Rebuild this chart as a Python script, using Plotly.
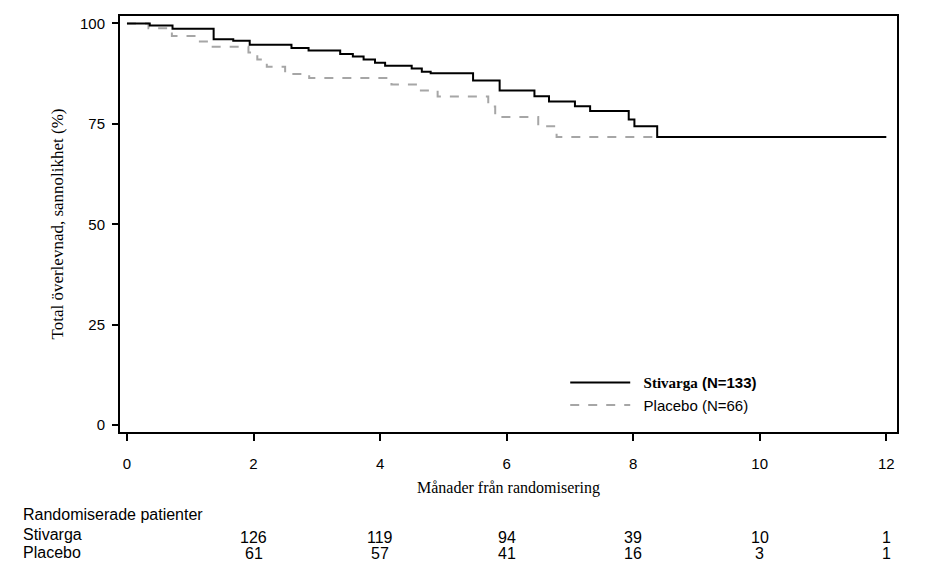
import plotly.graph_objects as go

# Kaplan-Meier step data (months, survival %)
stivarga_t = [0, 0.36, 0.72, 1.37, 1.68, 1.94, 2.60, 2.87, 3.37, 3.57, 3.74, 3.92, 4.08,
              4.50, 4.66, 4.80, 5.47, 5.89, 6.44, 6.67, 7.08, 7.32, 7.93, 8.02, 8.38, 12]
stivarga_s = [100, 99.5, 98.7, 96.1, 95.7, 94.7, 93.9, 93.3, 92.4, 91.8, 91.0, 90.2, 89.5,
              88.8, 88.0, 87.6, 85.8, 83.3, 81.9, 80.6, 79.4, 78.2, 76.1, 74.4, 71.7, 71.7]

placebo_t = [0, 0.34, 0.71, 1.10, 1.31, 1.92, 2.06, 2.21, 2.50, 2.88, 4.18, 4.61, 4.91,
             5.71, 5.82, 6.50, 6.79, 12]
placebo_s = [100, 98.8, 96.9, 95.5, 94.2, 92.8, 91.0, 89.2, 87.4, 86.4, 84.8, 83.3, 81.8,
             79.3, 76.7, 74.4, 71.7, 71.7]

# Numbers at risk
risk_months = [2, 4, 6, 8, 10, 12]
risk_stivarga = [126, 119, 94, 39, 10, 1]
risk_placebo = [61, 57, 41, 16, 3, 1]

x_ticks = [0, 2, 4, 6, 8, 10, 12]
y_ticks = [0, 25, 50, 75, 100]

SANS = "Liberation Sans, Arial, sans-serif"
SERIF = "Liberation Serif, Times New Roman, serif"

fig = go.Figure()
fig.add_trace(go.Scatter(
    x=placebo_t, y=placebo_s, mode="lines", line_shape="hv",
    line=dict(color="#a6a6a6", width=2, dash="dash"),
    name="&nbsp;&nbsp;Placebo (N=66)", legendrank=2,
))
fig.add_trace(go.Scatter(
    x=stivarga_t, y=stivarga_s, mode="lines", line_shape="hv",
    line=dict(color="black", width=2),
    name="&nbsp;&nbsp;<b><span style='font-family:Liberation Serif'>Stivarga</span> (N=133)</b>",
    legendrank=1,
))

FONT16 = dict(family=SANS, size=16, color="black")
annotations = [
    dict(text="Randomiserade patienter", xref="paper", yref="paper", x=-0.128, y=-0.199,
         xanchor="left", yanchor="middle", showarrow=False, font=FONT16),
    dict(text="Stivarga", xref="paper", yref="paper", x=-0.128, y=-0.247,
         xanchor="left", yanchor="middle", showarrow=False, font=FONT16),
    dict(text="Placebo", xref="paper", yref="paper", x=-0.128, y=-0.289,
         xanchor="left", yanchor="middle", showarrow=False, font=FONT16),
]
for m, a, b in zip(risk_months, risk_stivarga, risk_placebo):
    annotations.append(dict(text=str(a), xref="x", yref="paper", x=m, y=-0.253,
                            xanchor="center", yanchor="middle", showarrow=False, font=FONT16))
    annotations.append(dict(text=str(b), xref="x", yref="paper", x=m, y=-0.291,
                            xanchor="center", yanchor="middle", showarrow=False, font=FONT16))

fig.update_layout(
    width=927, height=584,
    margin=dict(l=112, r=38, t=6, b=160),
    paper_bgcolor="white", plot_bgcolor="white",
    showlegend=True,
    legend=dict(x=0.573, y=0.158, xanchor="left", yanchor="top",
                bgcolor="rgba(0,0,0,0)", font=dict(family=SANS, size=15, color="black"),
                itemwidth=60, tracegroupgap=0),
    annotations=annotations,
    xaxis=dict(range=[-0.11, 12.17], tickmode="array", tickvals=x_ticks,
               showgrid=False, zeroline=False, showline=True, linecolor="black", linewidth=2,
               mirror=True, ticks="outside", ticklen=7, tickwidth=2, tickcolor="black",
               ticklabelstandoff=10,
               tickfont=dict(family=SANS, size=15, color="black"),
               title=dict(text="Månader från randomisering", standoff=11,
                          font=dict(family=SERIF, size=16, color="black"))),
    yaxis=dict(range=[-1.73, 101.86], tickmode="array", tickvals=y_ticks,
               showgrid=False, zeroline=False, showline=True, linecolor="black", linewidth=2,
               mirror=True, ticks="outside", ticklen=6, tickwidth=2, tickcolor="black",
               ticklabelstandoff=4,
               tickfont=dict(family=SANS, size=15, color="black"),
               title=dict(text="Total överlevnad, sannolikhet (%)", standoff=12,
                          font=dict(family=SERIF, size=17, color="black"))),
)

fig.write_html("out.html")
